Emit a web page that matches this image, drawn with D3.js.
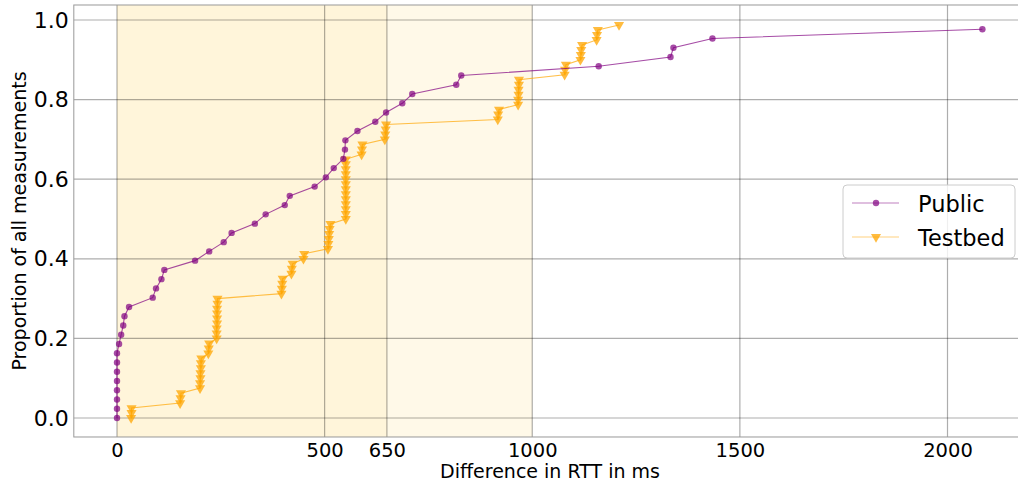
<!DOCTYPE html>
<html>
<head>
<meta charset="utf-8">
<script src="https://cdn.jsdelivr.net/npm/d3@7"></script>
<style>
  body { margin: 0; background: #fff; }
  svg { display: block; font-family: "DejaVu Sans", sans-serif; }
</style>
</head>
<body>
<div id="chart"></div>
<script>
// CDF values: y = k / N
const publicRtt = [0, 0, 0, 0, 0, 0, 0, 0, 5, 10, 15, 18, 29, 86, 94, 107, 114, 188, 222, 257,
  276, 332, 358, 404, 416, 476, 503, 522, 545, 549, 550, 579, 622, 648, 687, 711, 817, 829,
  1160, 1333, 1340, 1434, 2084];
const testbedRtt = [34, 35, 35, 152, 153, 154, 200, 200, 201, 201, 202, 202, 203, 220, 221, 222,
  240, 240, 240, 241, 241, 241, 241, 242, 242, 396, 397, 398, 399, 420, 421, 423, 449, 451,
  508, 509, 510, 511, 512, 514, 551, 551, 551, 551, 551, 551, 551, 551, 551, 551, 551, 551, 551,
  589, 590, 591, 645, 646, 647, 648, 917, 918, 920, 966, 966, 967, 967, 968, 968,
  1078, 1079, 1081, 1116, 1117, 1118, 1120, 1155, 1156, 1158, 1209];
const xTicks = [0, 500, 650, 1000, 1500, 2000];
const yTicks = [0, 0.2, 0.4, 0.6, 0.8, 1.0];
const spans = [[0, 650, 0.16], [650, 1000, 0.1]];
const seriesNames = ['Public', 'Testbed'];

const W = 1018, H = 482;
const x = d3.scaleLinear().domain([0, 2000]).range([117, 947.5]);
const y = d3.scaleLinear().domain([0, 1]).range([418, 20]);
const pLeft = x(-104), pRight = x(2188), pTop = y(1.0377), pBottom = y(-0.0477);

const svg = d3.select('#chart').append('svg').attr('width', W).attr('height', H);

svg.append('rect').attr('x', pLeft).attr('y', pTop).attr('width', pRight - pLeft).attr('height', pBottom - pTop).attr('fill', '#fff');

// shaded ranges
spans.forEach(([a, b, op]) => {
  svg.append('rect')
    .attr('x', x(a)).attr('y', pTop).attr('width', x(b) - x(a)).attr('height', pBottom - pTop)
    .attr('fill', '#ffc21a').attr('fill-opacity', op);
});

// grid
const grid = svg.append('g').attr('stroke', '#000').attr('stroke-opacity', 0.32).attr('stroke-width', 1.2);
xTicks.forEach(t => grid.append('line').attr('x1', x(t)).attr('x2', x(t)).attr('y1', pTop).attr('y2', pBottom));
yTicks.forEach(t => grid.append('line').attr('x1', pLeft).attr('x2', pRight).attr('y1', y(t)).attr('y2', y(t)));

// axes (labels only, no tick marks)
const xAxis = svg.append('g').attr('transform', `translate(0,${pBottom})`)
  .call(d3.axisBottom(x).tickValues(xTicks).tickSize(0).tickPadding(6).tickFormat(d3.format('d')));
xAxis.select('.domain').remove();
xAxis.selectAll('text').style('font-size', '19.5px').attr('fill', '#000').style('font-family', 'DejaVu Sans');

const yAxis = svg.append('g').attr('transform', `translate(${pLeft},0)`)
  .call(d3.axisLeft(y).tickValues(yTicks).tickSize(0).tickPadding(5).tickFormat(d3.format('.1f')));
yAxis.select('.domain').remove();
yAxis.selectAll('text').style('font-size', '22px').attr('fill', '#000').style('font-family', 'DejaVu Sans');

// spines
svg.append('rect').attr('x', pLeft).attr('y', pTop).attr('width', pRight - pLeft).attr('height', pBottom - pTop)
  .attr('fill', 'none').attr('stroke', '#999').attr('stroke-width', 1);

svg.append('text').attr('x', 550).attr('y', 478).attr('text-anchor', 'middle')
  .style('font-size', '19px').text('Difference in RTT in ms');
svg.append('text').attr('transform', `translate(26,${(pTop + pBottom) / 2}) rotate(-90)`)
  .attr('text-anchor', 'middle').style('font-size', '19px').text('Proportion of all measurements');

const line = d3.line().x(d => x(d.v)).y(d => y(d.p));
const toPts = arr => arr.map((v, i) => ({ v, p: i / arr.length }));
const pub = toPts(publicRtt), tb = toPts(testbedRtt);
const purple = '#800080', orange = '#ffa500';
const tri = d3.symbol().type(d3.symbolTriangle).size(44);

svg.append('path').datum(tb).attr('d', line).attr('fill', 'none')
  .attr('stroke', orange).attr('stroke-opacity', 0.7).attr('stroke-width', 1.1);
svg.selectAll('.tb').data(tb).join('path').attr('class', 'tb')
  .attr('d', tri).attr('transform', d => `translate(${x(d.v)},${y(d.p)}) rotate(180)`)
  .attr('fill', orange).attr('fill-opacity', 0.75);

svg.append('path').datum(pub).attr('d', line).attr('fill', 'none')
  .attr('stroke', purple).attr('stroke-opacity', 0.7).attr('stroke-width', 1.1);
svg.selectAll('.pub').data(pub).join('circle').attr('class', 'pub')
  .attr('cx', d => x(d.v)).attr('cy', d => y(d.p)).attr('r', 3.2)
  .attr('fill', purple).attr('fill-opacity', 0.7);

// legend
const lg = svg.append('g');
lg.append('rect').attr('x', 843).attr('y', 185).attr('width', 172).attr('height', 73).attr('rx', 4)
  .attr('fill', '#fff').attr('fill-opacity', 0.8).attr('stroke', '#ccc');
seriesNames.forEach((name, i) => {
  const cy = 203 + i * 34;
  const col = i === 0 ? purple : orange;
  lg.append('line').attr('x1', 852).attr('x2', 899).attr('y1', cy).attr('y2', cy)
    .attr('stroke', col).attr('stroke-opacity', 0.5).attr('stroke-width', 1.2);
  if (i === 0) {
    lg.append('circle').attr('cx', 876).attr('cy', cy).attr('r', 3.2).attr('fill', col).attr('fill-opacity', 0.7);
  } else {
    lg.append('path').attr('d', tri).attr('transform', `translate(876,${cy}) rotate(180)`).attr('fill', col).attr('fill-opacity', 0.75);
  }
  lg.append('text').attr('x', 918).attr('y', cy + 8.5).style('font-size', '22.5px').text(name);
});
</script>
</body>
</html>
